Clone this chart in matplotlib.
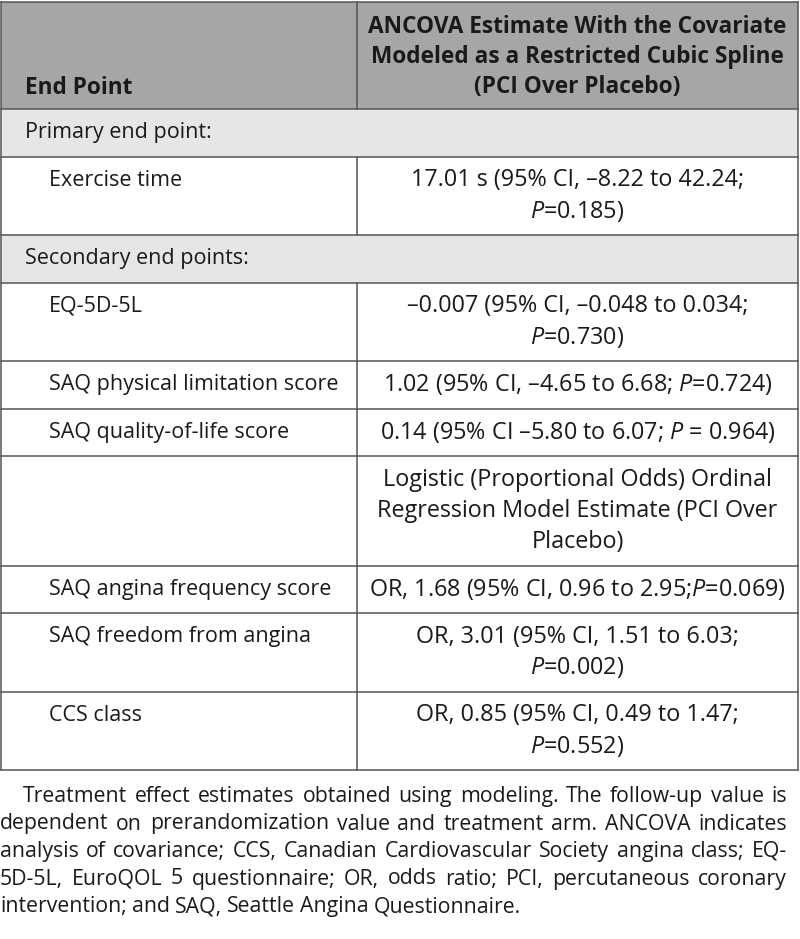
import matplotlib
matplotlib.use("Agg")
import matplotlib.pyplot as plt
from matplotlib.patches import Rectangle

plt.rcParams["font.family"] = ["Open Sans", "DejaVu Sans"]
plt.rcParams["mathtext.fontset"] = "custom"
plt.rcParams["mathtext.rm"] = "Open Sans"
plt.rcParams["mathtext.it"] = "Open Sans:italic"

# table content
header_left = "End Point"
header_right = ["ANCOVA Estimate With the Covariate",
                "Modeled as a Restricted Cubic Spline",
                "(PCI Over Placebo)"]

row_labels = ["Primary end point:", "Exercise time",
              "Secondary end points:", "EQ-5D-5L",
              "SAQ physical limitation score", "SAQ quality-of-life score",
              "", "SAQ angina frequency score", "SAQ freedom from angina",
              "CCS class"]
row_values = [
    [],
    ["17.01 s (95% CI, –8.22 to 42.24;", "$P$=0.185)"],
    [],
    ["–0.007 (95% CI, –0.048 to 0.034;", "$P$=0.730)"],
    ["1.02 (95% CI, –4.65 to 6.68; $P$=0.724)"],
    ["0.14 (95% CI –5.80 to 6.07; $P$ = 0.964)"],
    ["Logistic (Proportional Odds) Ordinal",
     "Regression Model Estimate (PCI Over", "Placebo)"],
    ["OR, 1.68 (95% CI, 0.96 to 2.95;$P$=0.069)"],
    ["OR, 3.01 (95% CI, 1.51 to 6.03;", "$P$=0.002)"],
    ["OR, 0.85 (95% CI, 0.49 to 1.47;", "$P$=0.552)"],
]
is_section = [True, False, True, False, False, False, False, False, False, False]

footnote_lines = [
    "Treatment effect estimates obtained using modeling. The follow-up value is",
    "dependent on prerandomization value and treatment arm. ANCOVA indicates",
    "analysis of covariance; CCS, Canadian Cardiovascular Society angina class; EQ-",
    "5D-5L, EuroQOL 5 questionnaire; OR, odds ratio; PCI, percutaneous coronary",
    "intervention; and SAQ, Seattle Angina Questionnaire.",
]

W, H = 800, 939
fig = plt.figure(figsize=(W / 100, H / 100), dpi=100)
ax = fig.add_axes([0, 0, 1, 1])
ax.set_xlim(0, W)
ax.set_ylim(H, 0)
ax.axis("off")

txt_col = "#1a1a1a"
line_col = "#555555"
fs_head, fs_lab, fs_val, fs_note = 16.3, 15.5, 16.8, 15.3
lw = 1.1
left, right, col_x = 1, 798, 357
top, head_bot = 2, 109
line_h, pad = 31, 16.5
mid_r = (col_x + right) / 2

# header
ax.add_patch(Rectangle((left, top), right - left, head_bot - top,
                       facecolor="#a6a6a6", edgecolor="none"))
ax.text(25, 88, header_left, fontsize=fs_head, fontweight="bold",
        color=txt_col, va="center", ha="left")
for i, s in enumerate(header_right):
    ax.text(mid_r, 27 + 30 * i, s, fontsize=fs_head, fontweight="bold",
            color=txt_col, va="center", ha="center")
ax.plot([col_x, col_x], [top, head_bot], color=line_col, lw=lw)

# body rows
y = head_bot
for lab, vals, sec in zip(row_labels, row_values, is_section):
    n = max(1, len(vals))
    h = pad + line_h * n
    if sec:
        ax.add_patch(Rectangle((left, y), right - left, h,
                               facecolor="#e6e6e6", edgecolor="none"))
        ax.text(25, y + h / 2, lab, fontsize=fs_lab, color=txt_col,
                va="center", ha="left")
    else:
        ax.text(49, y + pad / 2 + line_h / 2, lab, fontsize=fs_lab,
                color=txt_col, va="center", ha="left")
        y0 = y + h / 2 - line_h * (n - 1) / 2
        for k, s in enumerate(vals):
            ax.text(mid_r, y0 + line_h * k, s, fontsize=fs_val, color=txt_col,
                    va="center", ha="center")
        ax.plot([col_x, col_x], [y, y + h], color=line_col, lw=lw)
    ax.plot([left, right], [y, y], color=line_col, lw=lw)
    y += h
bottom = y
ax.plot([left, right], [top, top], color=line_col, lw=lw)
ax.plot([left, right], [bottom, bottom], color=line_col, lw=lw)
ax.plot([left, left], [top, bottom], color=line_col, lw=lw)
ax.plot([right, right], [top, bottom], color=line_col, lw=lw)

# footnote, justified word by word on a common baseline
renderer = fig.canvas.get_renderer()
fy = 802
for i, line in enumerate(footnote_lines):
    words = line.split(" ")
    x0 = 23 if i == 0 else 0
    texts = [ax.text(0, fy, w, fontsize=fs_note, color=txt_col,
                     va="baseline", ha="left") for w in words]
    widths = [t.get_window_extent(renderer).width for t in texts]
    if i < len(footnote_lines) - 1:
        gap = (787 - x0 - sum(widths)) / (len(words) - 1)
    else:
        gap = 5
    x = x0
    for t, wd in zip(texts, widths):
        t.set_x(x)
        x += wd + gap
    fy += 27.5

fig.savefig("out.png", dpi=100)
